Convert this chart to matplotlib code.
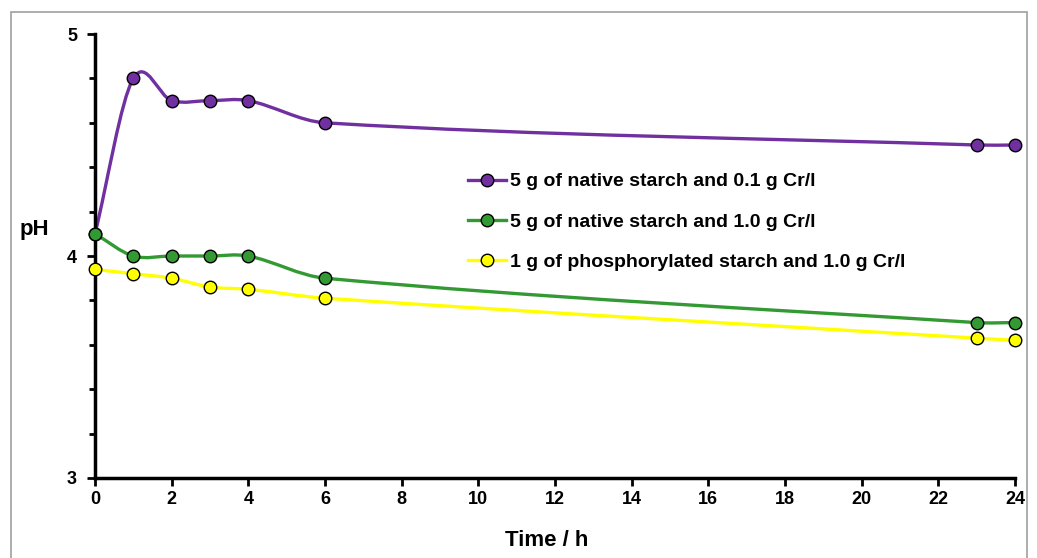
import matplotlib.pyplot as plt
from matplotlib.path import Path
from matplotlib.patches import PathPatch, Rectangle
from matplotlib.lines import Line2D
import numpy as np

plt.rcParams['font.family'] = ['Liberation Sans', 'DejaVu Sans']
plt.rcParams['font.weight'] = 'bold'

# Data
time_h = [0, 1, 2, 3, 4, 6, 23, 24]
ph_native_01 = [4.1, 4.8, 4.7, 4.7, 4.7, 4.6, 4.5, 4.5]
ph_native_10 = [4.1, 4.0, 4.0, 4.0, 4.0, 3.9, 3.7, 3.7]
ph_phos_10 = [3.94, 3.92, 3.9, 3.86, 3.85, 3.81, 3.63, 3.62]

labels = ["5 g of native starch and 0.1 g Cr/l",
          "5 g of native starch and 1.0 g Cr/l",
          "1 g of phosphorylated starch and 1.0 g Cr/l"]
colors = ["#7030A0", "#339933", "#FFFF00"]


def smooth_path(x, y):
    # smoothed line like the spreadsheet one: cubic Bezier between markers
    x = np.asarray(x, float)
    y = np.asarray(y, float)
    n = len(x)
    m = np.empty(n)
    m[0] = (y[1] - y[0]) / (x[1] - x[0])
    m[-1] = (y[-1] - y[-2]) / (x[-1] - x[-2])
    m[1:-1] = (y[2:] - y[:-2]) / (x[2:] - x[:-2])
    verts = [(x[0], y[0])]
    codes = [Path.MOVETO]
    for i in range(n - 1):
        h = (x[i + 1] - x[i]) / 3
        verts += [(x[i] + h, y[i] + m[i] * h),
                  (x[i + 1] - h, y[i + 1] - m[i + 1] * h),
                  (x[i + 1], y[i + 1])]
        codes += [Path.CURVE4] * 3
    return Path(verts, codes)


fig = plt.figure(figsize=(10.37, 5.58), dpi=100)
ax = fig.add_axes([95 / 1037, 1 - 478 / 558, 920 / 1037, 444 / 558])

series = [ph_native_01, ph_native_10, ph_phos_10]
for vals, col in zip(series, colors):
    ax.add_patch(PathPatch(smooth_path(time_h, vals), fill=False,
                           edgecolor=col, lw=2.4, zorder=2))
    ax.plot(time_h, vals, ls='none', marker='o', ms=9, mfc=col,
            mec='black', mew=1.0, zorder=3, clip_on=False)

ax.set_xlim(0, 24)
ax.set_ylim(3, 5)
ax.set_xticks(range(0, 25, 2))
ax.set_yticks([3, 4, 5])
ax.set_yticks(np.arange(3, 5.01, 0.2), minor=True)
ax.tick_params(axis='both', labelsize=13, width=2, length=6, direction='out')
ax.tick_params(axis='y', which='minor', width=2, length=4)
ax.tick_params(axis='y', pad=7)
for s in ['top', 'right']:
    ax.spines[s].set_visible(False)
for s in ['left', 'bottom']:
    ax.spines[s].set_linewidth(2.5)

fig.text(547 / 1037, 1 - 540 / 558, "Time / h", fontsize=16,
         fontweight='bold', ha='center', va='center')
fig.text(20 / 1037, 1 - 230 / 558, "pH", fontsize=16, fontweight='bold',
         va='center', ha='left')

handles = [Line2D([], [], color=c, lw=2.4, marker='o', ms=9, mfc=c,
                  mec='black', mew=1.0) for c in colors]
ax.legend(handles, labels, frameon=False, fontsize=14,
          loc='upper left', bbox_to_anchor=(0.3965, 0.705),
          handlelength=2.0, handletextpad=0.2, labelspacing=1.17,
          borderaxespad=0)

# outer chart border
fig.patches.append(Rectangle((11 / 1037, -0.05), 1016 / 1037, 1.05 - 12 / 558,
                             transform=fig.transFigure, fill=False,
                             edgecolor='#A0A0A0', lw=1.2))

fig.savefig("out.png", dpi=100)
